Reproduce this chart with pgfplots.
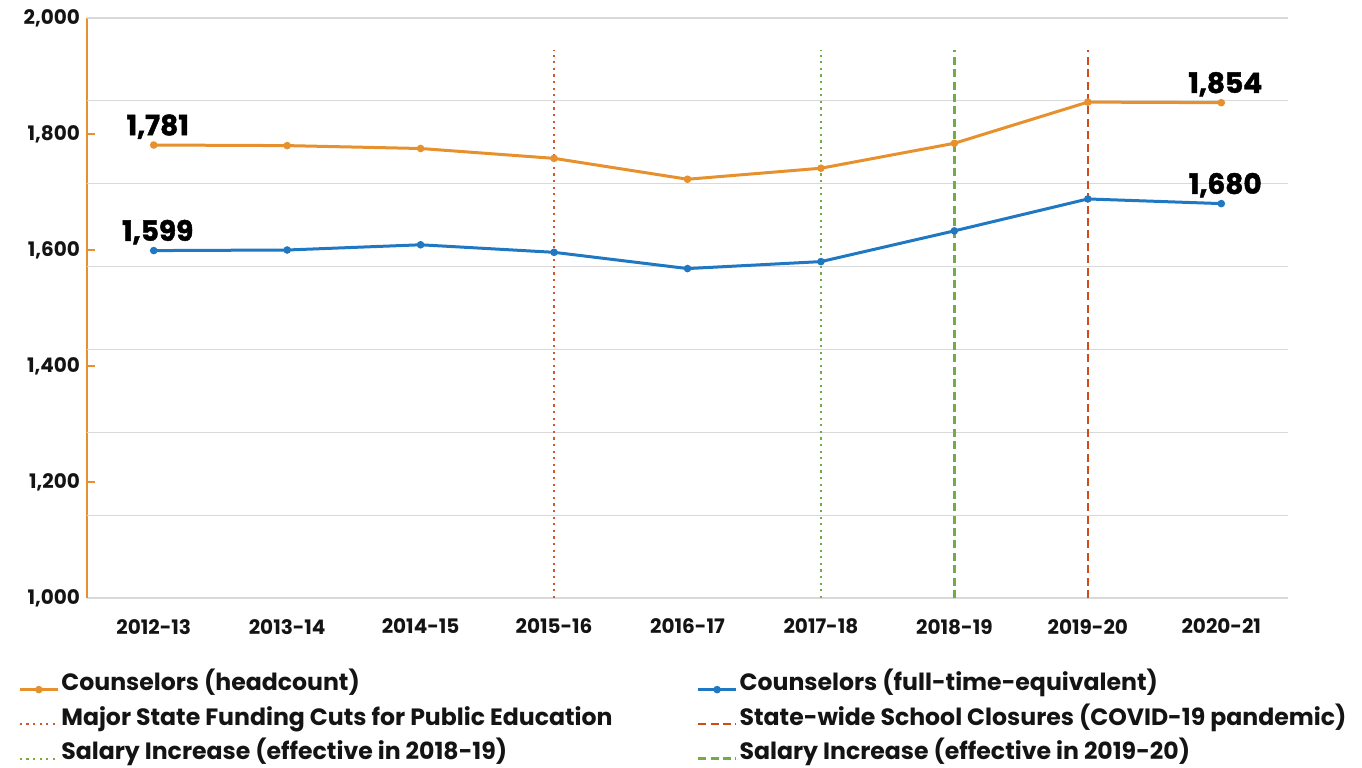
\documentclass[border=0pt]{standalone}
\usepackage{pgfplots}
\pgfplotsset{compat=1.18}
\usepackage{fontspec}
\setmainfont{Poppins}
\newfontfamily\heavy{Poppins}[BoldFeatures={FakeBold=1.6}]
\definecolor{hc}{RGB}{230,145,45}
\definecolor{fte}{RGB}{31,120,193}
\definecolor{redA}{RGB}{215,85,40}
\definecolor{redB}{RGB}{208,75,25}
\definecolor{grn}{RGB}{112,173,71}
\definecolor{gridc}{RGB}{217,217,217}
\definecolor{txt}{RGB}{20,20,20}
\begin{document}
\begin{tikzpicture}
\begin{axis}[
  scale only axis, width=600.5pt, height=290pt,
  xmin=-0.5, xmax=8.5, ymin=1000, ymax=2000,
  xtick={0,1,2,3,4,5,6,7,8},
  xticklabels={2012-13,2013-14,2014-15,2015-16,2016-17,2017-18,2018-19,2019-20,2020-21},
  ytick={1000,1200,1400,1600,1800,2000},
  extra y ticks={1142.857,1285.714,1428.571,1571.429,1714.286,1857.143,2000},
  extra y tick labels={},
  extra y tick style={grid=major, major grid style={color=gridc, line width=0.6pt}, major tick length=0pt},
  axis x line*=bottom, axis y line*=left,
  x axis line style={color=gridc, line width=0.8pt, -},
  y axis line style={color=hc, line width=0.8pt, -},
  ytick style={color=hc, line width=0.8pt},
  xtick style={draw=none},
  major tick length=4pt, tick align=inside,
  /pgf/number format/.cd, 1000 sep={,}, assume math mode=true, /pgfplots/.cd,
  yticklabel style={font=\bfseries\fontsize{10}{12}\selectfont, text=txt},
  xticklabel style={font=\bfseries\fontsize{10}{12}\selectfont, text=txt, yshift=-7pt},
  clip=false,
  legend columns=2,
  legend cell align=left,
  legend style={draw=none, fill=none, inner sep=0pt, at={(-0.0575,-0.1275)}, anchor=north west,
    font=\bfseries\fontsize{11.8}{13}\selectfont, text=txt,
    /tikz/every even column/.append style={column sep=41pt},
    row sep=0pt,
    nodes={inner xsep=1pt, inner ysep=0pt, text height=9.25pt, text depth=8pt}},
  legend image code/.code={\draw[mark repeat=2,mark phase=2,#1] plot coordinates {(0pt,0pt) (9.5pt,0pt) (19pt,0pt)};},
  every node near coord/.append style={font=\heavy\bfseries\fontsize{14}{16}\selectfont, text=black, anchor=south, yshift=-1pt, xshift=2pt},
]
\addplot[hc, line width=1.5pt, mark=*, mark size=1.1pt, nodes near coords, point meta=explicit symbolic] coordinates {
 (0,1781) [1,781] (1,1780) [] (2,1775) [] (3,1758) [] (4,1722) [] (5,1741) [] (6,1784) [] (7,1855) [] (8,1854) [1,854]};
\addlegendentry{Counselors (headcount)}
\addplot[fte, line width=1.5pt, mark=*, mark size=1.1pt, nodes near coords, point meta=explicit symbolic] coordinates {
 (0,1599) [1,599] (1,1600) [] (2,1609) [] (3,1596) [] (4,1568) [] (5,1580) [] (6,1633) [] (7,1688) [] (8,1680) [1,680]};
\addlegendentry{Counselors (full-time-equivalent)}
\addplot[redA, line width=1.1pt, dash pattern=on 1.1pt off 2.2pt] coordinates {(3,1000) (3,1945)};
\addlegendentry{Major State Funding Cuts for Public Education}
\addplot[redB, line width=1.3pt, dash pattern=on 4pt off 2.2pt] coordinates {(7,1000) (7,1945)};
\addlegendentry{State-wide School Closures (COVID-19 pandemic)}
\addplot[grn, line width=1.1pt, dash pattern=on 1.1pt off 2.2pt] coordinates {(5,1000) (5,1945)};
\addlegendentry{Salary Increase (effective in 2018-19)}
\addplot[grn, line width=1.3pt, dash pattern=on 4pt off 2.2pt] coordinates {(6,1000) (6,1945)};
\addlegendentry{Salary Increase (effective in 2019-20)}
\end{axis}
\pgfresetboundingbox
\path (-43.5pt,-84.5pt) rectangle (637.5pt,299pt);
\end{tikzpicture}
\end{document}
